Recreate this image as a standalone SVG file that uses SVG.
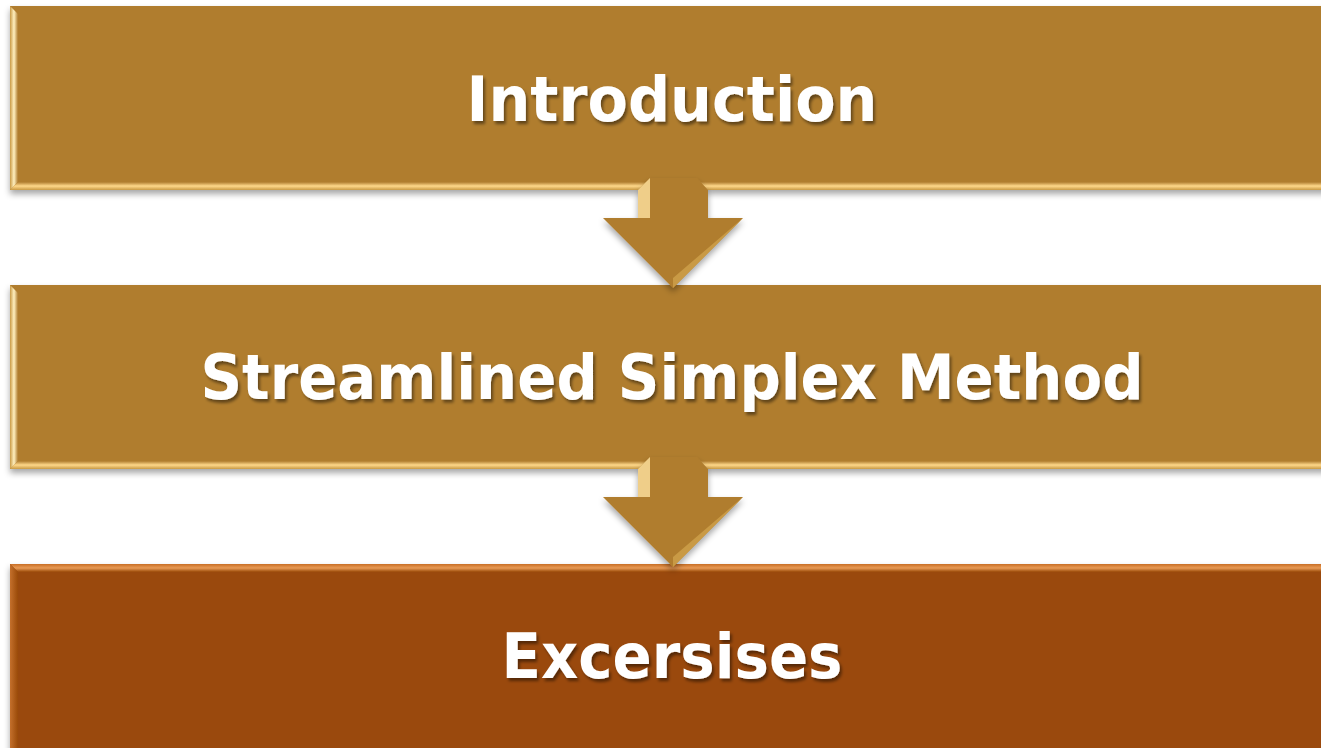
<svg xmlns="http://www.w3.org/2000/svg" width="1321" height="748" viewBox="0 0 1321 748">
<style>
.lbl{font-family:"DejaVu Sans","Verdana",sans-serif;font-weight:bold;font-size:63px;fill:#fff;text-anchor:middle;filter:url(#ts)}
</style>
<defs>
<filter id="ts" x="-10%" y="-30%" width="120%" height="160%"><feDropShadow dx="2" dy="3" stdDeviation="1.5" flood-color="#000" flood-opacity="0.45"/></filter>
<filter id="bs" x="-5%" y="-10%" width="110%" height="130%"><feDropShadow dx="0" dy="4" stdDeviation="3" flood-color="#000" flood-opacity="0.35"/></filter>
<linearGradient id="botG" x1="0" y1="0" x2="0" y2="1"><stop offset="0" stop-color="#b07d2f"/><stop offset="0.5" stop-color="#ffd88a"/><stop offset="1" stop-color="#c99a45"/></linearGradient>
<linearGradient id="leftG" x1="0" y1="0" x2="1" y2="0"><stop offset="0" stop-color="#c99a45"/><stop offset="0.5" stop-color="#fff0c0"/><stop offset="1" stop-color="#b07d2f"/></linearGradient>
<linearGradient id="topG3" x1="0" y1="0" x2="0" y2="1"><stop offset="0" stop-color="#c86e25"/><stop offset="0.5" stop-color="#e89a55"/><stop offset="1" stop-color="#9a4a08"/></linearGradient>
<linearGradient id="leftG3" x1="0" y1="0" x2="1" y2="0"><stop offset="0" stop-color="#c4702c"/><stop offset="1" stop-color="#9a4a08"/></linearGradient>
</defs>
<g id="node1">
<rect x="10" y="6" width="1320" height="184" fill="#b07d2f" filter="url(#bs)"/>
<polygon points="10,6 18,14 18,182 10,190" fill="url(#leftG)"/>
<polygon points="10,190 18,182 1330,182 1330,190" fill="url(#botG)"/>
<text class="lbl" x="672" y="121" textLength="411" lengthAdjust="spacingAndGlyphs">Introduction</text>
</g>
<g id="node2">
<rect x="10" y="285" width="1320" height="184" fill="#b07d2f" filter="url(#bs)"/>
<polygon points="10,285 18,293 18,461 10,469" fill="url(#leftG)"/>
<polygon points="10,469 18,461 1330,461 1330,469" fill="url(#botG)"/>
<text class="lbl" x="672" y="399" textLength="943" lengthAdjust="spacingAndGlyphs">Streamlined Simplex Method</text>
</g>
<g id="node3">
<rect x="10" y="564" width="1320" height="190" fill="#9a4a08" filter="url(#bs)"/>
<polygon points="10,564 18,572 1330,572 1330,564" fill="url(#topG3)"/>
<polygon points="10,564 18,572 18,754 10,754" fill="url(#leftG3)"/>
<text class="lbl" x="672" y="678" textLength="341" lengthAdjust="spacingAndGlyphs">Excersises</text>
</g>
<g id="connectors">
<g filter="url(#bs)">
<path d="M650,178 L697,178 L708,190 L708,218 L743,218 L673,288 L603,218 L638,218 L638,190 Z" fill="#b07d2f"/>
<path d="M650,457 L697,457 L708,469 L708,497 L743,497 L673,567 L603,497 L638,497 L638,469 Z" fill="#b07d2f"/>
</g>
<path d="M638,190 L650,178 L650,218 L638,218 Z" fill="#ffe2a0" opacity="0.8"/>
<path d="M638,469 L650,457 L650,497 L638,497 Z" fill="#ffe2a0" opacity="0.8"/>
<path d="M743,218 L673,288 L673,278 Z" fill="#c99a45"/>
<path d="M743,497 L673,567 L673,557 Z" fill="#c99a45"/>
</g>
</svg>
